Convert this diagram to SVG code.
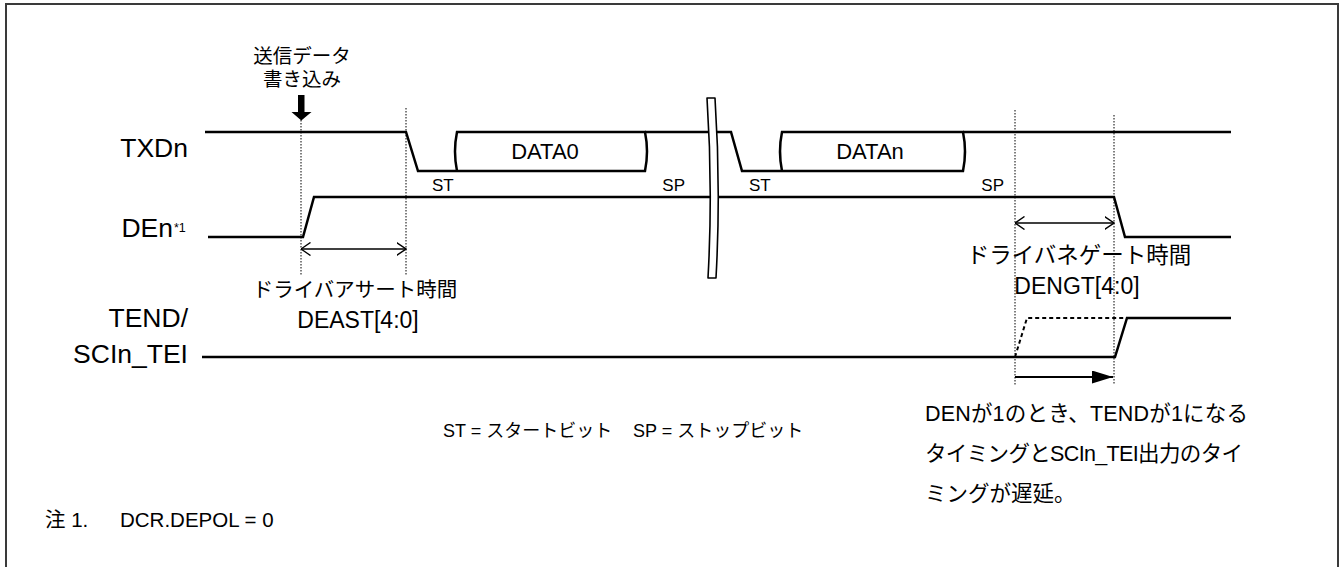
<svg xmlns="http://www.w3.org/2000/svg" width="1343" height="567" viewBox="0 0 1343 567">
<defs>
<style>
.sig{fill:none;stroke:#000;stroke-width:2.5;stroke-linejoin:miter}
.dash{fill:none;stroke:#000;stroke-width:2;stroke-dasharray:4 3}
.dot{fill:none;stroke:#000;stroke-width:1;stroke-dasharray:1.5 1.5}
.thin{fill:none;stroke:#000;stroke-width:1.4}
.lbl{font-family:"Liberation Sans",Arial,sans-serif;font-size:26.5px;fill:#000}
.jp{font-family:"Liberation Sans","Noto Sans CJK JP",sans-serif;fill:#000}
</style>
<marker id="open" viewBox="0 0 10 14" refX="9.5" refY="7" markerWidth="10" markerHeight="14" markerUnits="userSpaceOnUse" orient="auto-start-reverse">
<path d="M0,0.5 L9.5,7 L0,13.5" fill="none" stroke="#000" stroke-width="1.4"/>
</marker>
<marker id="solid" viewBox="0 0 21 13" refX="21" refY="6.5" markerWidth="21" markerHeight="13" markerUnits="userSpaceOnUse" orient="auto">
<path d="M0,0 L21,6.5 L0,13 Z" fill="#000"/>
</marker>
</defs>
<rect width="1343" height="567" fill="#fff"/>
<path id="frame" d="M6,600 V4 H1338 V600" fill="none" stroke="#3a3a3a" stroke-width="2"/>

<g id="guides">
<line class="dot" x1="301" y1="120" x2="301" y2="275"/>
<line class="dot" x1="406" y1="108" x2="406" y2="275"/>
<line class="dot" x1="1015" y1="110" x2="1015" y2="385"/>
<line class="dot" x1="1114" y1="115" x2="1114" y2="384"/>
</g>

<g id="write-marker">
<text class="jp" font-size="19.5" x="302" y="63" text-anchor="middle">送信データ</text>
<text class="jp" font-size="19.5" x="302" y="86" text-anchor="middle">書き込み</text>
<path d="M298,95 H304.5 V112 H311.5 L301.3,120.5 L291.5,112 H298 Z" fill="#000"/>
</g>

<g id="TXDn">
<text class="lbl" x="188" y="157" text-anchor="end">TXDn</text>
<path class="sig" d="M205,132 H406 L418,171 H456"/>
<path class="sig" d="M645,132 H710"/>
<path class="sig" d="M714,132 H731 L742,171 H781"/>
<path class="sig" d="M963,132 H1231"/>
</g>

<g id="DATA0">
<path class="sig" d="M457,132 H645 Q649,151.5 645,171 H457 Q453,151.5 457,132 Z" fill="#fff"/>
<text class="lbl" font-size="22" x="545" y="159" text-anchor="middle" style="font-size:22px">DATA0</text>
</g>

<g id="DATAn">
<path class="sig" d="M782,132 H963 Q967,151.5 963,171 H782 Q778,151.5 782,132 Z" fill="#fff"/>
<text class="lbl" x="870" y="159" text-anchor="middle" style="font-size:22px">DATAn</text>
</g>

<g id="bit-labels" class="jp" font-size="17">
<text x="432" y="191">ST</text>
<text x="685" y="191" text-anchor="end">SP</text>
<text x="749" y="191">ST</text>
<text x="1004" y="191" text-anchor="end">SP</text>
</g>

<g id="DEn">
<text class="lbl" x="173" y="237" text-anchor="end">DEn</text>
<text class="jp" font-size="12.5" x="174" y="232">*1</text>
<path class="sig" d="M208,237 H303 L314,197 H1114 L1125,237 H1231"/>
</g>

<g id="TEND">
<text class="lbl" x="188" y="327" text-anchor="end">TEND/</text>
<text class="lbl" x="188" y="363" text-anchor="end">SCIn_TEI</text>
<path class="sig" d="M202,357 H1115 L1127,318 H1231"/>
<path class="dash" d="M1015,357 L1027,318 H1125"/>
</g>

<g id="break">
<path d="M707,98 Q713,188 708,278 L716,278 Q721,188 715,98 Z" fill="#fff" stroke="#000" stroke-width="1.6" stroke-linejoin="round"/>
</g>

<g id="connectors">
<line class="thin" x1="301" y1="249" x2="406" y2="249" marker-start="url(#open)" marker-end="url(#open)"/>
<line class="thin" x1="1015" y1="223" x2="1114" y2="223" marker-start="url(#open)" marker-end="url(#open)"/>
<line x1="1015" y1="377" x2="1113" y2="377" stroke="#000" stroke-width="2" marker-end="url(#solid)"/>
</g>

<g id="assert-label" class="jp">
<text font-size="20.5" x="355" y="297" text-anchor="middle">ドライバアサート時間</text>
<text font-size="23" x="358" y="328" text-anchor="middle">DEAST[4:0]</text>
</g>

<g id="negate-label" class="jp">
<text font-size="22.5" x="1079" y="263" text-anchor="middle">ドライバネゲート時間</text>
<text font-size="23" x="1077" y="294" text-anchor="middle">DENGT[4:0]</text>
</g>

<g id="legend" class="jp" font-size="18">
<text x="443" y="437">ST = スタートビット</text>
<text x="633" y="437">SP = ストップビット</text>
</g>

<g id="delay-note" class="jp" font-size="21.5">
<text x="925" y="421" textLength="323">DENが1のとき、TENDが1になる</text>
<text x="925" y="461" textLength="318">タイミングとSCIn_TEI出力のタイ</text>
<text x="925" y="501">ミングが遅延。</text>
</g>

<g id="footnote" class="jp" font-size="20.5">
<text x="45" y="527">注 1.</text>
<text x="120" y="527">DCR.DEPOL = 0</text>
</g>
</svg>
